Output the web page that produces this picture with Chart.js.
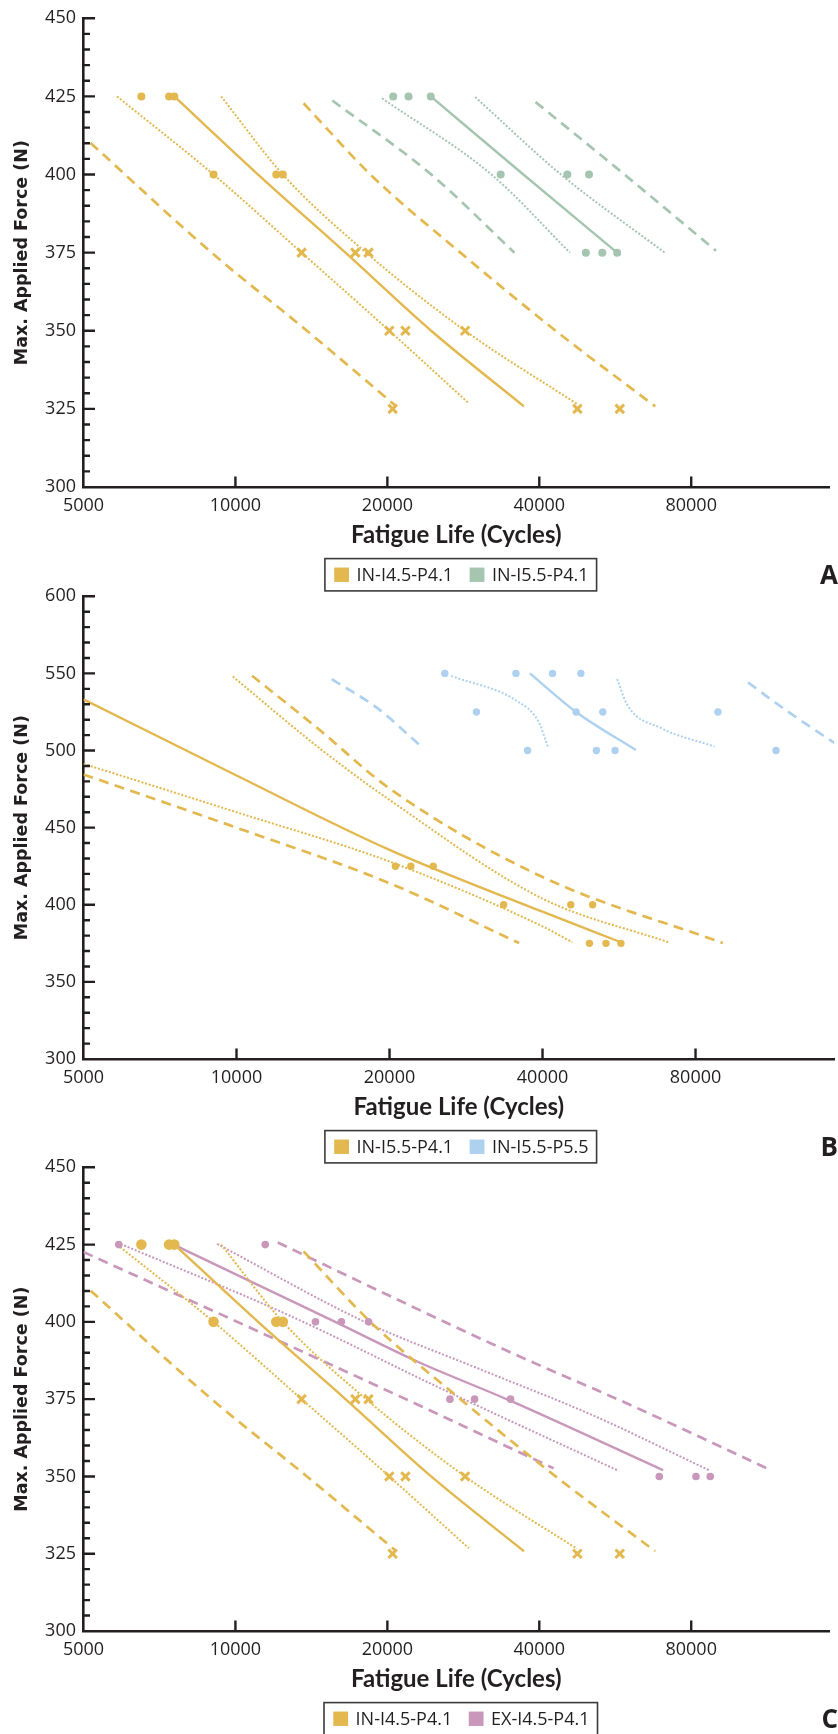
<!DOCTYPE html>
<html>
<head>
<meta charset="utf-8">
<script src="https://cdn.jsdelivr.net/npm/chart.js@4.4.1/dist/chart.umd.min.js"></script>
<style>
  html, body { margin: 0; padding: 0; background: #fff; }
  body { position: relative; width: 838px; height: 1734px; overflow: hidden; }
  canvas { position: absolute; left: 0; }
</style>
</head>
<body>
<canvas id="panelA"></canvas>
<canvas id="panelB"></canvas>
<canvas id="panelC"></canvas>
<script>
// ---- data: [fatigue life (cycles), max force (N)] ----

// IN-I4.5-P4.1 (panels A and C)
const in45Circles = [[6511, 425], [7388, 425], [7567, 425], [9050, 400], [12047, 400], [12414, 400]];
const in45Crosses = [[13524, 375], [17283, 375], [18355, 375], [20179, 350], [21721, 350], [28518, 350],
  [20490, 325], [47595, 325], [57745, 325]];
const in45Fit = [[7567, 425], [11089, 400], [16520, 375], [24425, 350], [37295, 325.8]];
const in45ConfLo = [[5825, 425], [9050, 400], [13524, 375], [20179, 350], [29000, 326.8]];
const in45ConfHi = [[9370, 425], [12414, 400], [17675, 376.6], [28518, 350], [47485, 326.6]];
const in45PredLo = [[5165, 410.1], [8970, 375], [13857, 350], [20700, 326.2]];
const in45PredHi = [[13647, 422.8], [18515, 400], [27910, 375], [43110, 350], [67880, 325.8]];

// IN-I5.5-P4.1 (panel A green, panel B yellow)
const in55Points = [[20540, 425], [22030, 425], [24380, 425], [33540, 400], [45460, 400], [50190, 400],
  [49470, 375], [53320, 375], [57050, 375]];
const in55FitA = [[24380, 425], [37200, 400], [57050, 375]];
const in55ConfLoA = [[19520, 424.4], [32260, 399.8], [46000, 375]];
const in55ConfHiA = [[29860, 424.8], [44160, 400], [70900, 375]];
const in55PredLoA = [[15560, 423.7], [24440, 400], [35710, 375]];
const in55PredHiA = [[39330, 423.2], [59000, 400], [89600, 375.6]];
const in55FitB = [[5000, 533.2], [10000, 483.8], [20000, 435.6], [40000, 395.5], [57050, 375.7]];
const in55ConfLoB = [[5000, 491.4], [10000, 460], [20000, 428], [40000, 386], [45780, 375.7]];
const in55ConfHiB = [[9832, 548], [14540, 501.7], [20000, 468], [40000, 404], [70730, 375.7]];
const in55PredLoB = [[5000, 484.5], [10000, 450], [20000, 414], [35970, 375.2]];
const in55PredHiB = [[10730, 548.5], [14540, 513.6], [20000, 475.4], [40000, 418], [90500, 375.2]];

// IN-I5.5-P5.5 (panel B blue)
const p55Points = [[25690, 550], [35460, 550], [41850, 550], [47590, 550],
  [29650, 525], [46570, 525], [52560, 525], [88540, 525],
  [37380, 500], [51050, 500], [55560, 500], [115200, 500]];
const p55Fit = [[37770, 550], [46570, 525], [61050, 500.3]];
const p55ConfLo = [[26450, 548.4], [35780, 531.7], [39270, 518.8], [40960, 502.6]];
const p55ConfHi = [[56080, 546.3], [58740, 529.5], [68600, 514.4], [87200, 502.6]];
const p55PredLo = [[15390, 546.3], [18960, 527.3], [23090, 502.6]];
const p55PredHi = [[101500, 544.1], [121600, 525.2], [150000, 505]];

// EX-I4.5-P4.1 (panel C purple)
const ex45Points = [[5872, 425], [11455, 425], [14410, 400], [16215, 400], [18355, 400],
  [26610, 375], [29775, 375], [35080, 375], [69150, 350], [81750, 350], [87260, 350]];
const ex45Fit = [[7543, 425], [15770, 400], [22980, 387.1], [35380, 374.2], [70380, 352]];
const ex45ConfLo = [[5924, 425.2], [12775, 402.1], [25490, 378.5], [57100, 352]];
const ex45ConfHi = [[9200, 425.2], [18045, 400], [30290, 384.9], [50860, 369.9], [86800, 352]];
const ex45PredLo = [[5000, 422.6], [11920, 394.6], [22980, 373.2], [42700, 352.6]];
const ex45PredHi = [[12130, 425.7], [21450, 406.4], [36000, 389.3], [60450, 373.2], [115200, 352]];

// axis ticks
const xTicks = [5000, 10000, 20000, 40000, 80000];
const xMin = 5000;
const xMax = 150000;

// ---- styling ----
const INK = '#231F20';
const YELLOW = '#E2B84F';
const GREEN = '#A5C5B1';
const BLUE = '#AED1F0';
const PURPLE = '#C897BA';
const TICK_FONT = { family: "'Open Sans', sans-serif", size: 18 };

const LINE_STYLES = {
  solid: { borderWidth: 2.4, borderDash: [] },
  dashed: { borderWidth: 2.7, borderDash: [10, 6.5] },
  dotted: { borderWidth: 2, borderDash: [2, 1.8] },
};

function xy(arr) {
  return arr.map(([x, y]) => ({ x, y }));
}

function marks(arr, color, shape, radius) {
  const cross = shape === 'crossRot';
  return {
    data: xy(arr),
    showLine: false,
    pointStyle: shape,
    pointRadius: radius,
    pointHoverRadius: radius,
    backgroundColor: color,
    borderColor: color,
    pointBorderWidth: cross ? 3 : 0,
  };
}

function curve(arr, color, style) {
  return {
    data: xy(arr),
    showLine: true,
    pointRadius: 0,
    borderColor: color,
    backgroundColor: color,
    cubicInterpolationMode: 'monotone',
    borderCapStyle: 'butt',
    ...LINE_STYLES[style],
  };
}

function band(color, fit, confLo, confHi, predLo, predHi) {
  return [
    curve(fit, color, 'solid'),
    curve(confLo, color, 'dotted'),
    curve(confHi, color, 'dotted'),
    curve(predLo, color, 'dashed'),
    curve(predHi, color, 'dashed'),
  ];
}

// inner tick marks, boxed legend and panel letter
const panelDeco = {
  id: 'panelDeco',
  afterDraw(chart, args, opts) {
    const { ctx, chartArea: a, scales: { x, y } } = chart;
    ctx.save();
    ctx.strokeStyle = INK;
    ctx.lineWidth = 2.4;
    ctx.beginPath();
    y.ticks.forEach(t => {
      if (t.value === y.min) return;
      const py = y.getPixelForValue(t.value);
      const len = t.value % opts.major === 0 ? 11.5 : 6.5;
      ctx.moveTo(a.left, py);
      ctx.lineTo(a.left + len, py);
    });
    x.ticks.forEach(t => {
      if (t.value === x.min) return;
      const px = x.getPixelForValue(t.value);
      ctx.moveTo(px, a.bottom);
      ctx.lineTo(px, a.bottom - 10.5);
    });
    ctx.stroke();

    // legend
    ctx.font = "18px 'Open Sans', sans-serif";
    const widths = opts.legend.map(it => ctx.measureText(it.label).width);
    const sq = 14.8;
    let total = 9.3 + 8;
    widths.forEach((w, i) => { total += sq + 7.5 + w + (i > 0 ? 16.5 : 0); });
    const cx = (a.left + 838) / 2;
    const top = a.bottom + 71.6;
    const h = 32.3;
    ctx.lineWidth = 1.6;
    ctx.strokeStyle = '#3b3b3b';
    ctx.strokeRect(cx - total / 2, top, total, h);
    let px = cx - total / 2 + 9.3;
    const my = top + h / 2;
    opts.legend.forEach((it, i) => {
      if (i > 0) px += 16.5;
      ctx.fillStyle = it.color;
      ctx.fillRect(px, my - 7.2, sq, 14.4);
      px += sq + 7.5;
      ctx.fillStyle = INK;
      ctx.textBaseline = 'middle';
      ctx.textAlign = 'left';
      ctx.fillText(it.label, px, my + 1);
      px += widths[i];
    });

    // panel letter
    ctx.font = "bold 26px 'Open Sans', sans-serif";
    ctx.textAlign = 'right';
    ctx.fillText(opts.letter, 838, a.bottom + 90);
    ctx.restore();
  },
};

function makePanel(id, geom, yRange, datasets, deco) {
  const canvas = document.getElementById(id);
  const h = geom.bottom - geom.top + 16 + 106;
  canvas.width = 838;
  canvas.height = Math.round(h);
  canvas.style.width = '838px';
  canvas.style.height = Math.round(h) + 'px';
  canvas.style.top = (geom.top - 16) + 'px';

  return new Chart(canvas, {
    type: 'scatter',
    data: { datasets },
    plugins: [panelDeco],
    options: {
      responsive: false,
      animation: false,
      events: [],
      layout: { padding: { top: 16, left: 0, right: 0, bottom: h - 16 - (geom.bottom - geom.top) - 64 } },
      plugins: {
        legend: { display: false },
        tooltip: { enabled: false },
        panelDeco: deco,
      },
      scales: {
        x: {
          type: 'logarithmic',
          min: xMin,
          max: xMax,
          afterBuildTicks: s => { s.ticks = xTicks.map(v => ({ value: v })); },
          afterFit: s => { s.height = 64; },
          grid: { display: true, drawOnChartArea: false, drawTicks: false },
          border: { display: true, color: INK, width: 2.6 },
          ticks: {
            autoSkip: false,
            maxRotation: 0,
            padding: 8,
            color: INK,
            font: TICK_FONT,
            callback: v => String(v),
          },
          title: {
            display: true,
            text: 'Fatigue Life (Cycles)',
            color: INK,
            font: { family: "Lato, 'DejaVu Sans Condensed', sans-serif", size: 24, weight: 'bold' },
            padding: { top: 0, bottom: 1 },
          },
        },
        y: {
          type: 'linear',
          min: yRange.min,
          max: yRange.max,
          afterFit: s => { s.width = 83.5; },
          grid: { display: true, drawOnChartArea: false, drawTicks: false },
          border: { display: true, color: INK, width: 2.6 },
          ticks: {
            stepSize: yRange.minor,
            autoSkip: false,
            padding: 7.5,
            color: INK,
            font: TICK_FONT,
            callback: v => (v % yRange.major === 0 ? String(v) : ''),
          },
          title: {
            display: true,
            text: 'Max. Applied Force (N)',
            color: INK,
            font: { family: "'DejaVu Sans', sans-serif", size: 17.5, weight: 'bold' },
            padding: { top: 12, bottom: 0 },
          },
        },
      },
    },
  });
}

// Panel A: IN-I4.5-P4.1 vs IN-I5.5-P4.1
makePanel('panelA', { top: 16.3, bottom: 486.9 }, { min: 300, max: 450, minor: 5, major: 25 }, [
  marks(in45Circles, YELLOW, 'circle', 4),
  marks(in45Crosses, YELLOW, 'crossRot', 6),
  marks(in55Points, GREEN, 'circle', 4),
  ...band(YELLOW, in45Fit, in45ConfLo, in45ConfHi, in45PredLo, in45PredHi),
  ...band(GREEN, in55FitA, in55ConfLoA, in55ConfHiA, in55PredLoA, in55PredHiA),
], { major: 25, letter: 'A', legend: [{ label: 'IN-I4.5-P4.1', color: YELLOW }, { label: 'IN-I5.5-P4.1', color: GREEN }] });

// Panel B: IN-I5.5-P4.1 vs IN-I5.5-P5.5
makePanel('panelB', { top: 594.1, bottom: 1059.1 }, { min: 300, max: 600, minor: 10, major: 50 }, [
  marks(in55Points, YELLOW, 'circle', 3.7),
  marks(p55Points, BLUE, 'circle', 3.7),
  ...band(YELLOW, in55FitB, in55ConfLoB, in55ConfHiB, in55PredLoB, in55PredHiB),
  ...band(BLUE, p55Fit, p55ConfLo, p55ConfHi, p55PredLo, p55PredHi),
], { major: 50, letter: 'B', legend: [{ label: 'IN-I5.5-P4.1', color: YELLOW }, { label: 'IN-I5.5-P5.5', color: BLUE }] });

// Panel C: IN-I4.5-P4.1 vs EX-I4.5-P4.1
makePanel('panelC', { top: 1165.0, bottom: 1630.6 }, { min: 300, max: 450, minor: 5, major: 25 }, [
  marks(in45Circles, YELLOW, 'circle', 5.3),
  marks(in45Crosses, YELLOW, 'crossRot', 6),
  marks(ex45Points, PURPLE, 'circle', 3.8),
  ...band(YELLOW, in45Fit, in45ConfLo, in45ConfHi, in45PredLo, in45PredHi),
  ...band(PURPLE, ex45Fit, ex45ConfLo, ex45ConfHi, ex45PredLo, ex45PredHi),
], { major: 25, letter: 'C', legend: [{ label: 'IN-I4.5-P4.1', color: YELLOW }, { label: 'EX-I4.5-P4.1', color: PURPLE }] });
</script>
</body>
</html>
